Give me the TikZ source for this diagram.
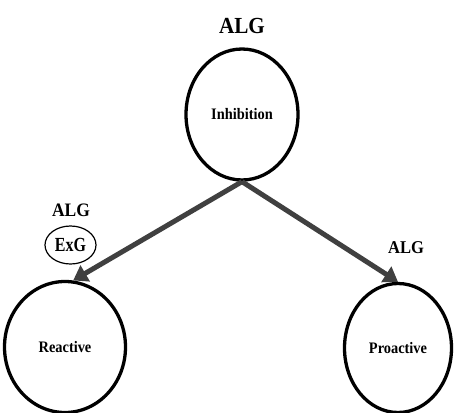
\documentclass[tikz,border=0pt]{standalone}
\usepackage{fontspec}
\setmainfont{Liberation Serif}
\usetikzlibrary{shapes.geometric,arrows.meta}
\definecolor{arrowgray}{HTML}{404040}
\newcommand{\cnd}[2][0.9]{\scalebox{#1}[1]{#2}}
\tikzset{
  bubble/.style={ellipse, draw=black, line width=3.3pt, inner sep=0pt, font=\bfseries\fontsize{16}{18}\selectfont},
  small/.style={ellipse, draw=black, line width=1.2pt, inner sep=0pt, font=\bfseries\fontsize{20}{22}\selectfont},
  lbl/.style={inner sep=0pt, font=\bfseries},
  link/.style={draw=arrowgray, line width=5pt, -{Triangle[length=14pt,width=18pt]}}
}
\begin{document}
\begin{tikzpicture}[x=1pt,y=-1pt]
\useasboundingbox (0,0) rectangle (454,412);
\node[lbl, font=\bfseries\fontsize{23}{25}\selectfont] (t1) at (242,26) {\cnd[0.92]{ALG}};
\node[bubble, minimum width=112pt, minimum height=131pt] (inh) at (242,114.5) {\cnd{Inhibition}};
\node[bubble, minimum width=121pt, minimum height=131pt] (rea) at (65,347) {\cnd{Reactive}};
\node[bubble, minimum width=107pt, minimum height=129pt] (pro) at (398,348) {\cnd{Proactive}};
\node[small, minimum width=51pt, minimum height=38pt] (exg) at (70.5,245) {\cnd[0.8]{ExG}};
\node[lbl, font=\bfseries\fontsize{19}{21}\selectfont] (t2) at (71,210) {\cnd[0.92]{ALG}};
\node[lbl, font=\bfseries\fontsize{18}{20}\selectfont] (t3) at (406,248) {\cnd[0.92]{ALG}};
\draw[link] (inh.south) -- (rea.83);
\draw[link] (inh.south) -- (pro.north);
\end{tikzpicture}
\end{document}
